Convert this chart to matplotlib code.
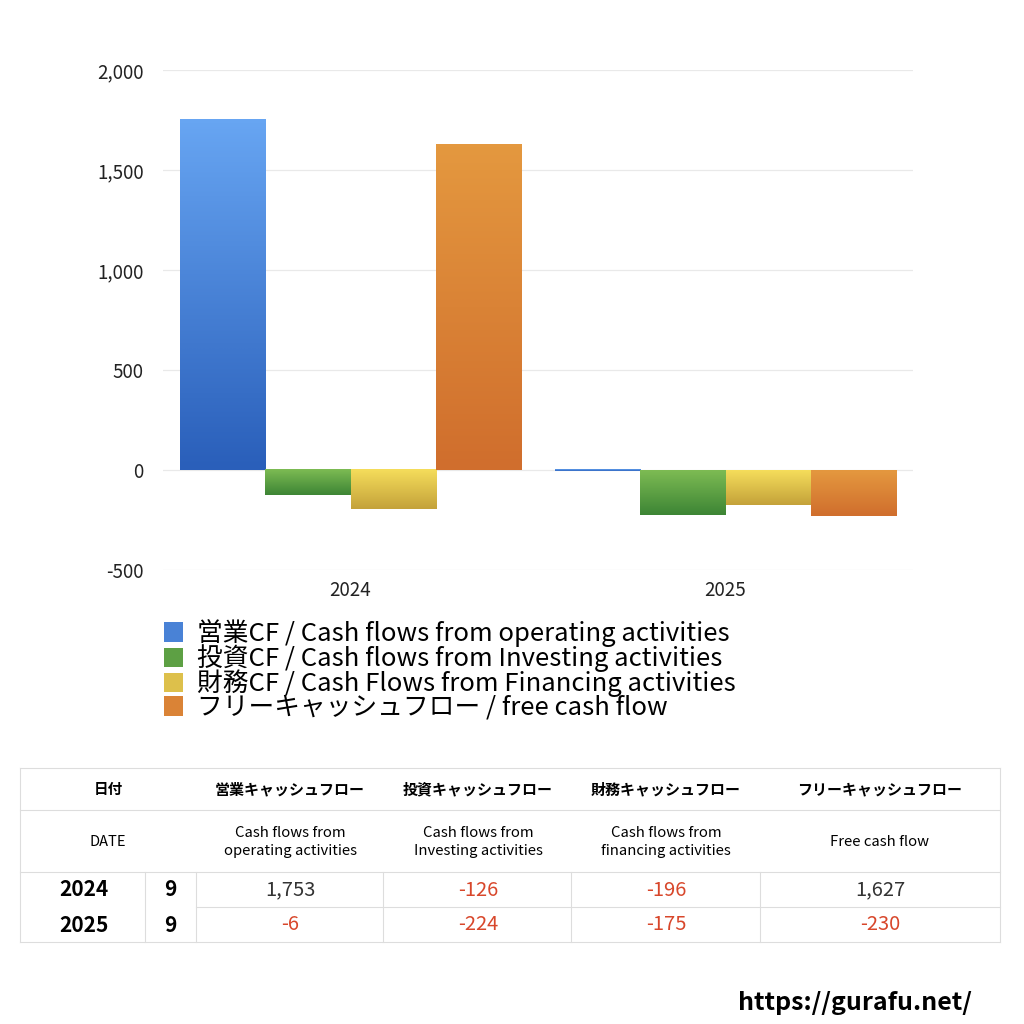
import numpy as np
import matplotlib
matplotlib.use('Agg')
import matplotlib.pyplot as plt
from matplotlib.colors import LinearSegmentedColormap
from matplotlib.patches import Patch
from matplotlib.lines import Line2D

plt.rcParams['font.family'] = ['Noto Sans CJK JP', 'DejaVu Sans']

# data
years = ['2024', '2025']
months = ['9', '9']
operating_cf = [1753, -6]
investing_cf = [-126, -224]
financing_cf = [-196, -175]
free_cf = [1627, -230]

series_labels = [
    '営業CF / Cash flows from operating activities',
    '投資CF / Cash flows from Investing activities',
    '財務CF / Cash Flows from Financing activities',
    'フリーキャッシュフロー / free cash flow',
]
head_jp = ['営業キャッシュフロー', '投資キャッシュフロー',
           '財務キャッシュフロー', 'フリーキャッシュフロー']
head_en = ['Cash flows from\noperating activities',
           'Cash flows from\nInvesting activities',
           'Cash flows from\nfinancing activities',
           'Free cash flow']
yticks = [-500, 0, 500, 1000, 1500, 2000]

# gradient colours (top, bottom)
grads = [('#67a5f2', '#2a5fba'),
         ('#7dbb53', '#3d8535'),
         ('#f5dd5b', '#c4a23a'),
         ('#e4983f', '#d06e2d')]

W = 1024
fig = plt.figure(figsize=(10.24, 10.24), dpi=100)
ax = fig.add_axes([163 / W, 1 - 570 / W, 750 / W, 500 / W])

series = [operating_cf, investing_cf, financing_cf, free_cf]
x = np.arange(len(years))
bw = 0.227
for i, vals in enumerate(series):
    offs = (i - 1.5) * bw
    bars = ax.bar(x + offs, vals, bw, color='none', linewidth=0)
    cmap = LinearSegmentedColormap.from_list('g%d' % i, [grads[i][1], grads[i][0]])
    for b in bars:
        bx, by = b.get_x(), b.get_y()
        bwid, bh = b.get_width(), b.get_height()
        y0, y1 = min(by, by + bh), max(by, by + bh)
        grad = np.linspace(0, 1, 64).reshape(-1, 1)
        ax.imshow(grad, cmap=cmap, extent=[bx, bx + bwid, y0, y1],
                  origin='lower', aspect='auto', zorder=3,
                  interpolation='bicubic')

ax.set_xlim(-0.5, 1.5)
ax.set_ylim(-500, 2000)
ax.set_yticks(yticks)
ax.set_yticklabels(['{:,}'.format(v) for v in yticks])
ax.set_xticks(x)
ax.set_xticklabels(years)
ax.grid(axis='y', color='#e9e9e9', linewidth=0.9, zorder=0)
ax.set_axisbelow(True)
for s in ax.spines.values():
    s.set_visible(False)
ax.tick_params(length=0, labelsize=13.5, colors='#222222')
ax.tick_params(axis='y', pad=14)
ax.tick_params(axis='x', pad=7)

# legend
handles = [Patch(facecolor=LinearSegmentedColormap.from_list('m', [g[1], g[0]])(0.5),
                 edgecolor='none') for g in grads]
fig.legend(handles, series_labels, loc='upper left',
           bbox_to_anchor=(164 / W, 1 - 619 / W), frameon=False,
           fontsize=18.5, handlelength=0.75, handleheight=0.8,
           handletextpad=0.55, labelspacing=-0.1, borderaxespad=0,
           borderpad=0)

# table
lc = '#dddddd'


def fx(px):
    return px / W


def fy(py):
    return 1 - py / W


def hline(x0, x1, y):
    fig.add_artist(Line2D([fx(x0), fx(x1)], [fy(y), fy(y)], color=lc, lw=0.8))


def vline(xp, y0, y1):
    fig.add_artist(Line2D([fx(xp), fx(xp)], [fy(y0), fy(y1)], color=lc, lw=0.8))


hline(20, 1000, 768)
hline(20, 1000, 810)
hline(20, 1000, 872)
hline(196, 1000, 907)
hline(20, 1000, 942)
vline(20, 768, 942)
vline(1000, 768, 942)
for xp in [145, 196, 383, 571, 760]:
    vline(xp, 872, 942)

col_x = [290, 478, 666, 880]
fig.text(fx(108), fy(789), '日付', ha='center', va='center', fontsize=10.5,
         fontweight='bold')
fig.text(fx(108), fy(842), 'DATE', ha='center', va='center', fontsize=10.5)
for cx, hj, he in zip(col_x, head_jp, head_en):
    fig.text(fx(cx), fy(789), hj, ha='center', va='center', fontsize=10.8,
             fontweight='bold')
    fig.text(fx(cx), fy(842), he, ha='center', va='center', fontsize=10.7,
             linespacing=1.3)

row_y = [890, 925]
for r, (yr, mo) in enumerate(zip(years, months)):
    fig.text(fx(84), fy(row_y[r]), yr, ha='center', va='center',
             fontsize=15, fontweight='bold')
    fig.text(fx(170), fy(row_y[r]), mo, ha='center', va='center',
             fontsize=15, fontweight='bold')
    for cx, vals in zip(col_x, series):
        v = vals[r]
        fig.text(fx(cx), fy(row_y[r]), '{:,}'.format(v), ha='center',
                 va='center', fontsize=14.5,
                 color='#d8472b' if v < 0 else '#333333')

fig.text(fx(972), fy(1003), 'https://gurafu.net/', ha='right', va='center',
         fontsize=18, fontweight='bold')

fig.savefig('out.png', dpi=100, facecolor='white')
